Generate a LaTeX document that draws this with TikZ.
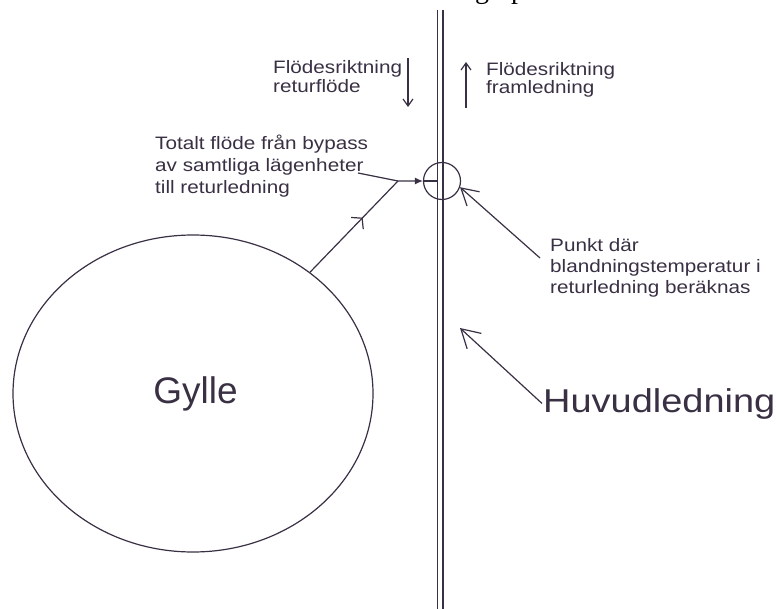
\documentclass[tikz,border=0pt]{standalone}
\usepackage{fontspec}
\setmainfont{Liberation Sans}
\newfontfamily\cadfont[FakeStretch=1.15]{Liberation Sans}
\newfontfamily\capfont{Liberation Serif}
\usetikzlibrary{arrows.meta,decorations.markings,shapes.geometric}
\definecolor{ink}{RGB}{58,48,68}
\tikzset{
  lbl/.style={inner sep=0pt, text=ink, align=left},
  pipe/.style={draw=ink, line width=1.1pt},
  lead/.style={draw=ink, line width=1.2pt},
  barb/.style={-{Straight Barb[angle=60:19pt]}},
  flow/.style={-{Straight Barb[length=7pt,width=10pt]}},
}
\begin{document}
\begin{tikzpicture}[x=1pt,y=-1pt]
\useasboundingbox (0,0) rectangle (776,609);
% cut-off caption fragment at the top
\node[inner sep=0pt, anchor=base west, text=black, font=\capfont\fontsize{28}{28}\selectfont] (frag) at (475,-1) {g\hspace{22pt}p};
% main pipe
\coordinate (pLt) at (437.5,10); \coordinate (pLb) at (437.5,612);
\coordinate (pRt) at (443,10);   \coordinate (pRb) at (443,612);
\draw[pipe] (pLt) -- (pLb);
\draw[pipe] (pRt) -- (pRb);
% mixing point
\node[circle, draw=ink, line width=1.2pt, minimum size=37pt, inner sep=0pt] (mix) at (442,181) {};
\coordinate (mixin) at (437.5,181);
\draw[lead] (mix.west) -- (mixin);
% Gylle tank
\node[ellipse, draw=ink, line width=1.2pt, minimum width=360pt, minimum height=317pt, inner sep=0pt] (gylle) at (193,393.5) {};
\node[inner sep=0pt, anchor=base, text=ink, font=\fontsize{37}{37}\selectfont] (gtxt) at (195.5,403) {Gylle};
% bypass flow
\coordinate (J) at (398,181);
\coordinate (tstart) at (358,173);
\draw[lead, decoration={markings, mark=at position 0.6 with {\arrow{Straight Barb[angle=100:11pt]}}}, postaction={decorate}] (gylle) -- (J);
\draw[lead, -{Latex[length=8pt,width=7pt]}] (tstart) -- (J) -- (mix.west);
% labels
\node[lbl, anchor=north west, font=\cadfont\fontsize{18}{19}\selectfont] (ret) at (273,60) {Flödesriktning\\returflöde};
\node[lbl, anchor=north west, font=\cadfont\fontsize{18}{18}\selectfont] (fram) at (486,62) {Flödesriktning\\framledning};
\node[lbl, anchor=north west, font=\cadfont\fontsize{18}{22}\selectfont] (tot) at (155,135) {Totalt flöde från bypass\\av samtliga lägenheter\\till returledning};
\node[lbl, anchor=north west, font=\cadfont\fontsize{18}{21}\selectfont] (punkt) at (550,238) {Punkt där\\blandningstemperatur i\\returledning beräknas};
\node[lbl, anchor=base west, font=\cadfont\fontsize{33}{33}\selectfont] (huvud) at (543,412) {Huvudledning};
% flow direction arrows
\coordinate (rdA) at (408,58);  \coordinate (rdB) at (408,107);
\coordinate (fuA) at (466,108); \coordinate (fuB) at (466,62);
\draw[lead, flow] (rdA) -- (rdB);
\draw[lead, flow] (fuA) -- (fuB);
% leaders
\coordinate (pstart) at (540,258);
\draw[lead, barb] (pstart) -- (mix.-19);
\coordinate (htip) at (460,328);
\draw[lead, -{Straight Barb[angle=60:21pt]}] ([xshift=-1pt]huvud.west) -- (htip);
\end{tikzpicture}
\end{document}
